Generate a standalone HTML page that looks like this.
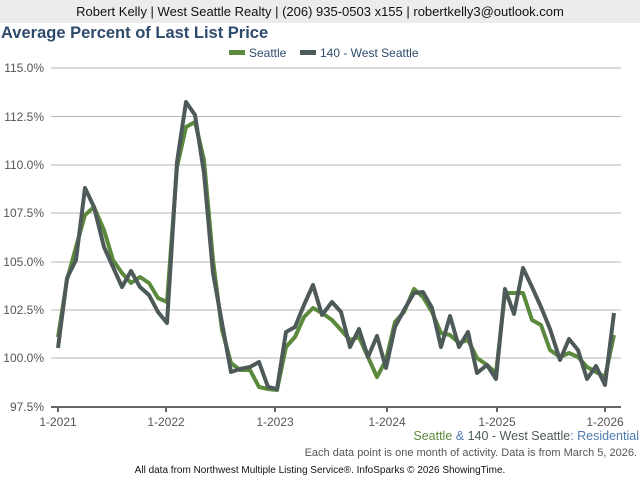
<!DOCTYPE html>
<html><head><meta charset="utf-8"><style>
body{margin:0;width:640px;height:480px;background:#fff;font-family:"Liberation Sans",sans-serif;overflow:hidden;position:relative}
.hdr{position:absolute;left:0;top:0;width:640px;height:23px;background:#ececec;font-size:13px;line-height:23px;text-align:center;color:#111}
.t{position:absolute;left:1px;top:24px;font-size:16.5px;font-weight:bold;color:#2e4b6c}
</style></head><body>
<div class="hdr">Robert Kelly | West Seattle Realty | (206) 935-0503 x155 | robertkelly3@outlook.com</div>
<div class="t">Average Percent of Last List Price</div>
<svg width="640" height="480" style="position:absolute;left:0;top:0" font-family="Liberation Sans, sans-serif">
<g font-size="12" fill="#2e4b6c">
<rect x="229" y="50" width="16" height="5" fill="#5b8a3c"/><text x="249" y="57">Seattle</text>
<rect x="300" y="50" width="16" height="5" fill="#4e5a5a"/><text x="320" y="57">140 - West Seattle</text>
</g>
<g stroke="#b4b4b4" stroke-width="1">
<line x1="51" x2="621" y1="68" y2="68"/><line x1="51" x2="621" y1="116.5" y2="116.5"/><line x1="51" x2="621" y1="165" y2="165"/><line x1="51" x2="621" y1="213" y2="213"/><line x1="51" x2="621" y1="262" y2="262"/><line x1="51" x2="621" y1="310" y2="310"/><line x1="51" x2="621" y1="358" y2="358"/>
</g>
<line x1="51" x2="621" y1="407" y2="407" stroke="#666" stroke-width="2"/>
<g stroke="#666" stroke-width="2"><line x1="58" x2="58" y1="407" y2="412"/><line x1="166" x2="166" y1="407" y2="412"/><line x1="275" x2="275" y1="407" y2="412"/><line x1="387" x2="387" y1="407" y2="412"/><line x1="497" x2="497" y1="407" y2="412"/><line x1="605" x2="605" y1="407" y2="412"/></g>
<g font-size="12" fill="#555" text-anchor="end">
<text x="44" y="72">115.0%</text><text x="44" y="121">112.5%</text><text x="44" y="169">110.0%</text><text x="44" y="217">107.5%</text><text x="44" y="266">105.0%</text><text x="44" y="314">102.5%</text><text x="44" y="362">100.0%</text><text x="44" y="411">97.5%</text>
</g>
<g font-size="12" fill="#555" text-anchor="middle">
<text x="58" y="426">1-2021</text><text x="166" y="426">1-2022</text><text x="275" y="426">1-2023</text><text x="387" y="426">1-2024</text><text x="497" y="426">1-2025</text><text x="605" y="426">1-2026</text>
</g>
<polyline fill="none" stroke="#5b8a3c" stroke-width="4" stroke-linejoin="round" points="58,337 67,280 76,247 85,215 94,207 104,230 113,260 122,273 131,283 140,277 149,283 158,298 167,302 177,167 186,127 195,122 204,160 213,260 222,330 231,363 240,370 250,370 259,387 268,389 277,390 286,347 295,337 304,317 313,308 322,313 332,320 341,330 350,340 359,337 368,357 377,377 386,360 395,322 404,312 414,289 423,297 432,312 441,333 450,335 459,343 468,340 477,358 487,365 496,373 505,293 514,293 523,293 532,320 541,325 550,350 560,357 569,353 578,357 587,367 596,372 605,377 614,335"/>
<polyline fill="none" stroke="#4e5a5a" stroke-width="4" stroke-linejoin="round" points="58,348 67,278 76,260 85,188 94,207 104,247 113,267 122,287 131,271 140,287 149,295 158,312 167,323 177,162 186,102 195,115 204,173 213,273 222,323 231,372 240,369 250,367 259,362 268,387 277,389 286,332 295,327 304,305 313,285 322,315 332,302 341,312 350,347 359,329 368,357 377,336 386,368 395,327 404,310 414,293 423,292 432,308 441,347 450,316 459,347 468,332 477,373 487,365 496,379 505,289 514,314 523,268 532,287 541,307 550,329 560,360 569,339 578,350 587,379 596,366 605,385 614,313"/>
<text x="639" y="440" font-size="12.5" text-anchor="end"><tspan fill="#5b8a3c">Seattle</tspan><tspan fill="#4d7ab0"> &amp; </tspan><tspan fill="#4e5a5a">140 - West Seattle</tspan><tspan fill="#4d7ab0">: Residential</tspan></text>
<text x="637" y="456" font-size="11" fill="#555" text-anchor="end">Each data point is one month of activity. Data is from March 5, 2026.</text>
<text x="320" y="473" font-size="10" fill="#111" text-anchor="middle">All data from Northwest Multiple Listing Service®. InfoSparks © 2026 ShowingTime.</text>
</svg>
</body></html>
